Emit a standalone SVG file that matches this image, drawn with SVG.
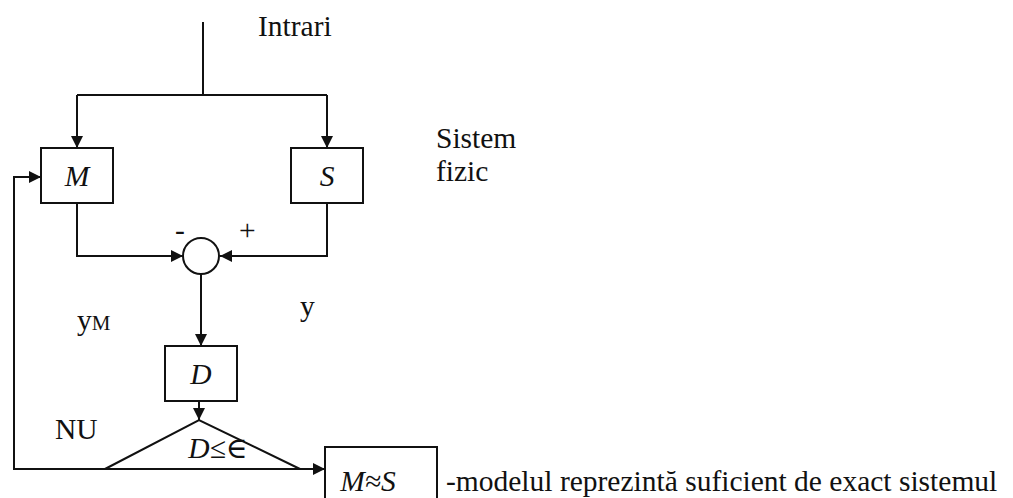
<svg xmlns="http://www.w3.org/2000/svg" width="1013" height="498" viewBox="0 0 1013 498">
<defs>
<style>
.ln{stroke:#111;stroke-width:2;fill:none}
.bx{stroke:#111;stroke-width:2;fill:#fff}
.t{font-family:"Liberation Serif","Times New Roman","DejaVu Serif",serif;font-size:29.5px;fill:#111}
.i{font-style:italic}
</style>
<marker id="ar" viewBox="0 0 12 12" refX="12" refY="6" markerWidth="12" markerHeight="12" markerUnits="userSpaceOnUse" orient="auto">
<path d="M0,0 L12,6 L0,12 Z" fill="#111"/>
</marker>
</defs>
<rect width="1013" height="498" fill="#fff"/>
<g id="connectors">
<line class="ln" x1="203" y1="22" x2="203" y2="95"/>
<polyline class="ln" points="77,95 327,95"/>
<line class="ln" x1="77" y1="95" x2="77" y2="148" marker-end="url(#ar)"/>
<line class="ln" x1="327" y1="95" x2="327" y2="148" marker-end="url(#ar)"/>
<polyline class="ln" points="77,203 77,256 183,256" marker-end="url(#ar)"/>
<polyline class="ln" points="327,203 327,256 220,256" marker-end="url(#ar)"/>
<line class="ln" x1="201" y1="274" x2="201" y2="346" marker-end="url(#ar)"/>
<line class="ln" x1="199" y1="401" x2="199" y2="420" marker-end="url(#ar)"/>
<line class="ln" x1="105" y1="469" x2="325" y2="469" marker-end="url(#ar)"/>
<polyline class="ln" points="105,469 14,469 14,177 41,177" marker-end="url(#ar)"/>
</g>
<g id="node-M"><rect class="bx" x="41" y="148" width="72" height="55"/><text class="t i" x="77" y="186" text-anchor="middle">M</text></g>
<g id="node-S"><rect class="bx" x="291" y="148" width="72" height="55"/><text class="t i" x="327" y="186" text-anchor="middle">S</text></g>
<g id="node-sum"><circle class="bx" cx="201" cy="256" r="18"/></g>
<g id="node-D"><rect class="bx" x="165" y="346" width="72" height="55"/><text class="t i" x="201" y="384" text-anchor="middle">D</text></g>
<g id="node-decision"><polygon class="ln" points="105,469 199,420 300,469"/><text class="t i" x="218" y="458" text-anchor="middle">D≤∈</text></g>
<g id="node-MS"><rect class="bx" x="325" y="447" width="112" height="60"/><text class="t i" x="368" y="491" text-anchor="middle">M≈S</text></g>
<g id="labels">
<text class="t" x="258" y="36">Intrari</text>
<text class="t" x="436" y="148">Sistem</text>
<text class="t" x="436" y="181">fizic</text>
<text class="t" x="175" y="240">-</text>
<text class="t" x="239" y="240">+</text>
<text class="t" x="77" y="330">y<tspan font-size="21">M</tspan></text>
<text class="t" x="300" y="316">y</text>
<text class="t" x="55" y="439">NU</text>
<text class="t" x="446" y="491">-modelul reprezintă suficient de exact sistemul</text>
</g>
</svg>
